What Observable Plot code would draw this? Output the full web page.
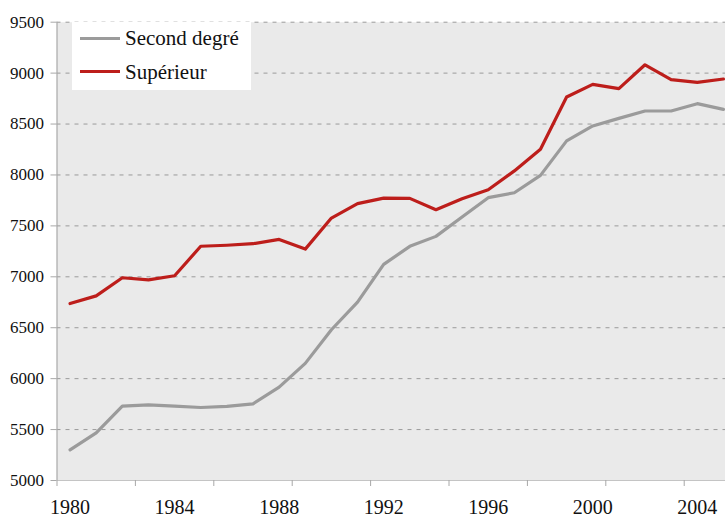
<!DOCTYPE html>
<html>
<head>
<meta charset="utf-8">
<script src="https://cdn.jsdelivr.net/npm/d3@7"></script>
<script src="https://cdn.jsdelivr.net/npm/@observablehq/plot@0.6"></script>
<style>
  html, body { margin: 0; padding: 0; background: #fff; }
  #chart { position: relative; width: 725px; height: 517px; overflow: hidden; }
  #legend { position: absolute; left: 72px; top: 22px; width: 179px; height: 68px; background: #fff;
            font-family: "Liberation Serif", "Times New Roman", serif; font-size: 21px; color: #111; }
  #legend .sw { position: absolute; left: 8px; width: 40px; height: 3px; }
  #legend .lb { position: absolute; left: 53px; line-height: 1; }
</style>
</head>
<body>
<div id="chart"></div>
<script>
const years = d3.range(1980, 2006);
const secondDegre = [5300, 5468, 5730, 5743, 5730, 5717, 5727, 5753, 5917, 6150,
                     6480, 6752, 7122, 7299, 7397, 7587, 7777, 7825, 7996, 8335,
                     8481, 8556, 8628, 8628, 8700, 8644];
const superieur = [6738, 6813, 6991, 6970, 7010, 7300, 7310, 7325, 7367, 7272,
                   7577, 7718, 7773, 7770, 7659, 7767, 7855, 8040, 8252, 8765,
                   8890, 8848, 9082, 8936, 8910, 8942];
const seriesNames = ["Second degré", "Supérieur"];
const seriesColors = ["#9b9b9b", "#bd1e1b"];
const yTicks = [5000, 5500, 6000, 6500, 7000, 7500, 8000, 8500, 9000, 9500];
const xLabels = [1980, 1984, 1988, 1992, 1996, 2000, 2004];
const xTickMarks = d3.range(1979.5, 2005, 3);
const serif = "Liberation Serif";

const data = [];
years.forEach((y, i) => {
  data.push({year: y, value: secondDegre[i], series: seriesNames[0]});
  data.push({year: y, value: superieur[i], series: seriesNames[1]});
});

const plot = Plot.plot({
  width: 725,
  height: 517,
  marginLeft: 56.5,
  marginRight: 0,
  marginTop: 21.7,
  marginBottom: 37,
  style: {fontFamily: serif, fontSize: "17px", color: "#111", background: "#fff"},
  x: {domain: [1979.5, 2005.08]},
  y: {domain: [5000, 9500]},
  color: {domain: seriesNames, range: seriesColors},
  marks: [
    Plot.frame({fill: "#eaeaea", stroke: null}),
    Plot.gridY(yTicks.filter(t => t > 5000), {stroke: "#9a9a9a", strokeOpacity: 1, strokeDasharray: "4,5", strokeWidth: 1}),
    Plot.ruleX([1979.5], {stroke: "#a8a8a8", strokeWidth: 1.2}),
    Plot.ruleY([5000], {stroke: "#c4c4c4", strokeWidth: 1.2}),
    Plot.axisY({ticks: yTicks, tickSize: 6, tickPadding: 7, tickFormat: d => String(d), stroke: "#a8a8a8", label: null, fontFamily: serif}),
    Plot.axisX({ticks: xTickMarks, tickSize: 6, text: null, stroke: "#a8a8a8", label: null}),
    Plot.axisX({ticks: xLabels, tickSize: 0, tickPadding: 19, tickFormat: d => String(d), fontSize: 20, label: null, fontFamily: serif}),
    Plot.line(data, {x: "year", y: "value", z: "series", stroke: "series", strokeWidth: 3.2, strokeLinejoin: "round", strokeLinecap: "round"})
  ]
});

const chart = document.getElementById("chart");
chart.appendChild(plot);

const legend = document.createElement("div");
legend.id = "legend";
const rowTops = [16, 49.5];
seriesNames.forEach((name, i) => {
  const sw = document.createElement("div");
  sw.className = "sw";
  sw.style.top = (rowTops[i] - 1.5) + "px";
  sw.style.background = seriesColors[i];
  legend.appendChild(sw);
  const lb = document.createElement("div");
  lb.className = "lb";
  lb.style.top = (rowTops[i] - 10) + "px";
  lb.textContent = name;
  legend.appendChild(lb);
});
chart.appendChild(legend);
</script>
</body>
</html>
